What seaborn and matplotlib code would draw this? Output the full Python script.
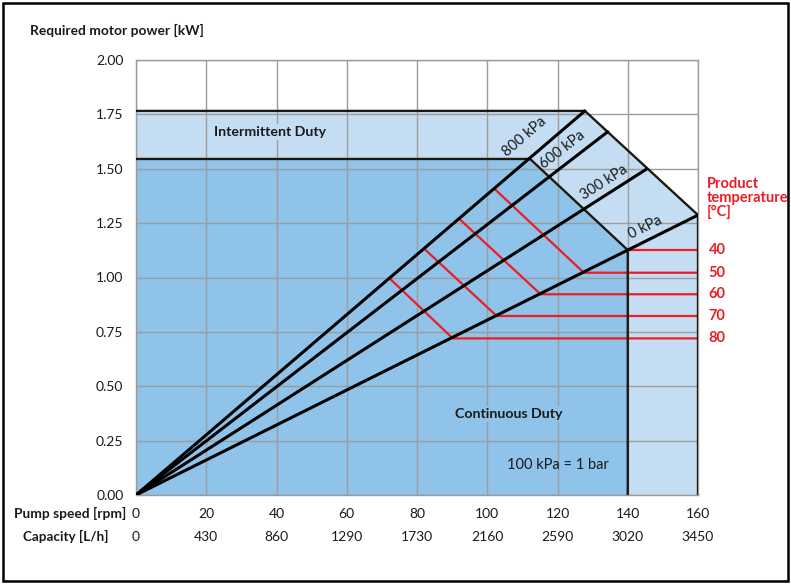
import numpy as np
import pandas as pd
import matplotlib
matplotlib.use("Agg")
import matplotlib.pyplot as plt
import matplotlib.transforms as mtrans
from matplotlib.patches import Rectangle
import seaborn as sns

# ---------------- data ----------------
speed_ticks = [0, 20, 40, 60, 80, 100, 120, 140, 160]
capacity_labels = ["0", "430", "860", "1290", "1730", "2160", "2590", "3020", "3450"]
power_ticks = [0.0, 0.25, 0.5, 0.75, 1.0, 1.25, 1.5, 1.75, 2.0]

pressures = ["800 kPa", "600 kPa", "300 kPa", "0 kPa"]
pressure_end_speed = [127.8, 134.3, 145.4, 160.0]
pressure_end_power = [1.766, 1.670, 1.499, 1.287]

intermittent_speed = [0, 0, 127.8, 160, 160]
intermittent_power = [0, 1.766, 1.766, 1.287, 0]
continuous_speed = [0, 0, 112.2, 140, 140]
continuous_power = [0, 1.545, 1.545, 1.126, 0]

temps = [40, 50, 60, 70, 80]
temp_start_speed = [140.0, 101.9, 92.0, 82.0, 72.0]
temp_start_power = [1.126, 1.410, 1.270, 1.133, 0.999]
temp_knee_speed = [140.0, 127.5, 115.2, 102.7, 90.2]
temp_knee_power = [1.126, 1.022, 0.923, 0.823, 0.720]
max_speed = 160

# ---------------- style ----------------
LIGHT = "#c5ddf3"
DARK = "#8fc3ea"
RED = "#ed1c24"
GRID = "#9c9c9c"
TXT = "#1a1a1a"
W, H = 791, 584

sns.set_theme(style="white")
plt.rcParams["font.family"] = ["Lato", "DejaVu Sans"]

fig = plt.figure(figsize=(W / 100, H / 100), dpi=100)
ax = fig.add_axes([136 / W, 1 - 495 / H, (698 - 136) / W, (495 - 60) / H])
ax.set_xlim(0, 160)
ax.set_ylim(0, 2)

# regions
ax.fill(intermittent_speed, intermittent_power, color=LIGHT, lw=0, zorder=0.2)
ax.fill(continuous_speed, continuous_power, color=DARK, lw=0, zorder=0.3)

# grid
ax.set_xticks(speed_ticks)
ax.set_xticklabels([str(s) for s in speed_ticks])
ax.set_yticks(power_ticks)
ax.set_yticklabels([f"{p:.2f}" for p in power_ticks])
ax.grid(True, color=GRID, lw=1.0)
ax.set_axisbelow(True)
for s in ax.spines.values():
    s.set_color(GRID)
    s.set_linewidth(1.0)
ax.tick_params(axis="y", length=4, width=1, color=GRID, pad=5, labelsize=10, labelcolor=TXT)
ax.tick_params(axis="x", length=3, width=1, color=GRID, pad=6, labelsize=10, labelcolor=TXT)

# temperature lines
rows = []
for t, s0, p0, s1, p1 in zip(temps, temp_start_speed, temp_start_power, temp_knee_speed, temp_knee_power):
    rows += [(t, 0, s0, p0), (t, 1, s1, p1), (t, 2, max_speed, p1)]
temp_df = pd.DataFrame(rows, columns=["temp", "order", "speed", "power"])
sns.lineplot(data=temp_df, x="speed", y="power", units="temp", estimator=None, sort=False,
             color=RED, lw=1.6, ax=ax, legend=False, zorder=3)

# pressure lines
prow = []
for name, s, p in zip(pressures, pressure_end_speed, pressure_end_power):
    prow += [(name, 0.0, 0.0), (name, s, p)]
p_df = pd.DataFrame(prow, columns=["pressure", "speed", "power"])
sns.lineplot(data=p_df, x="speed", y="power", units="pressure", estimator=None, sort=False,
             color="black", lw=2.2, ax=ax, legend=False, zorder=5)

# region outlines
brow = []
for i in range(1, 5):
    brow.append(("intermittent", intermittent_speed[i], intermittent_power[i]))
for i in range(1, 5):
    brow.append(("continuous", continuous_speed[i], continuous_power[i]))
b_df = pd.DataFrame(brow, columns=["region", "speed", "power"])
sns.lineplot(data=b_df, x="speed", y="power", units="region", estimator=None, sort=False,
             color="#1c1a10", lw=1.7, ax=ax, legend=False, zorder=4)
ax.set_xlabel("")
ax.set_ylabel("")
ax.set_xlim(0, 160)
ax.set_ylim(0, 2)

# pressure labels
label_pos = [(110.7, 1.646), (121.3, 1.586), (133.2, 1.439), (144.9, 1.232)]
fig.canvas.draw()
for name, s, p, (lx, ly) in zip(pressures, pressure_end_speed, pressure_end_power, label_pos):
    a = ax.transData.transform((0, 0))
    b = ax.transData.transform((s, p))
    ang = np.degrees(np.arctan2(b[1] - a[1], b[0] - a[0]))
    ax.text(lx, ly, name, rotation=ang, rotation_mode="anchor", ha="center", va="center",
            fontsize=10.5, color=TXT, zorder=6)

# region labels
ax.text(38.2, 1.669, "Intermittent Duty", ha="center", va="center", fontsize=10.2, weight="bold",
        color=TXT, zorder=2, bbox=dict(fc=LIGHT, ec="none", pad=1.5))
ax.text(106, 0.372, "Continuous Duty", ha="center", va="center", fontsize=10.2, weight="bold",
        color=TXT, zorder=2, bbox=dict(fc=DARK, ec="none", pad=1.5))
ax.text(120, 0.138, "100 kPa = 1 bar", ha="center", va="center", fontsize=10.5, color=TXT, zorder=2)

# temperature labels
for t, p in zip(temps, temp_knee_power):
    ax.text(163.0, p, str(t), ha="left", va="center", fontsize=10.5, weight="bold",
            color=RED, clip_on=False)
fig.text(707 / W, 1 - 177 / H, "Product\ntemperature\n[°C]", ha="left", va="top",
         fontsize=10.5, weight="bold", color=RED, linespacing=1.0)

# titles / extra axis rows
fig.text(30 / W, 1 - 30 / H, "Required motor power [kW]", ha="left", va="center",
         fontsize=9.9, weight="bold", color=TXT)
fig.text(14 / W, 1 - 513 / H, "Pump speed [rpm]", ha="left", va="center",
         fontsize=9.9, weight="bold", color=TXT)
fig.text(66 / W, 1 - 536 / H, "Capacity [L/h]", ha="center", va="center",
         fontsize=9.7, weight="bold", color=TXT)
trans = mtrans.blended_transform_factory(ax.transData, fig.transFigure)
for s, c in zip(speed_ticks, capacity_labels):
    ax.text(s, 1 - 537 / H, c, transform=trans, ha="center", va="center", fontsize=10,
            color=TXT, clip_on=False)

# outer frame
fig.patches.append(Rectangle((3 / W, 3 / H), 1 - 6 / W, 1 - 6 / H, transform=fig.transFigure,
                             fill=False, ec="black", lw=1.8))

fig.savefig("out.png", dpi=100)
